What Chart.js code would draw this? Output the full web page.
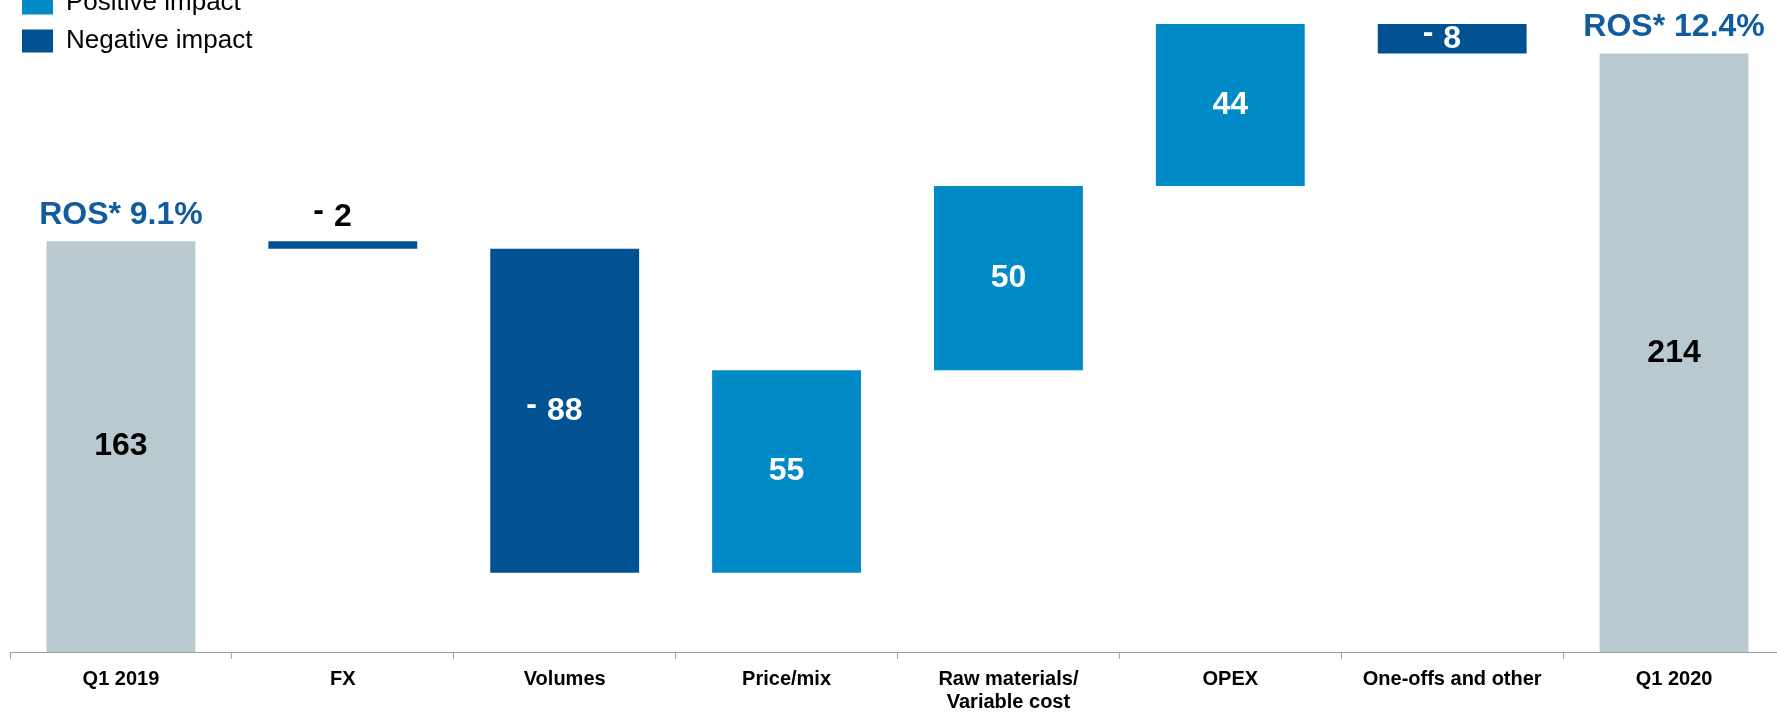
<!DOCTYPE html>
<html>
<head>
<meta charset="utf-8">
<script src="https://cdn.jsdelivr.net/npm/chart.js@4.4.1/dist/chart.umd.min.js"></script>
<style>
  html, body { margin: 0; padding: 0; background: #fff; overflow: hidden; width: 1777px; height: 712px; }
  #wrap { position: absolute; left: 0; top: -22px; width: 1785px; height: 734px; }
</style>
</head>
<body>
<div id="wrap"><canvas id="chartBridge"></canvas></div>
<script>
// EBIT-мост Q1 2019 -> Q1 2020

var categories = ['Q1 2019', 'FX', 'Volumes', 'Price/mix', ['Raw materials/', 'Variable cost'], 'OPEX', 'One-offs and other', 'Q1 2020'];
var values = [163, -2, -88, 55, 50, 44, -8, 214];
var kinds = ['total', 'delta', 'delta', 'delta', 'delta', 'delta', 'delta', 'total'];
var rosLabels = ['ROS* 9.1%', '', '', '', '', '', '', 'ROS* 12.4%'];
var legendNames = ['Positive impact', 'Negative impact'];

var COL_TOTAL = '#B8C9D0';
var COL_POS = '#008BC6';
var COL_NEG = '#005293';
var COL_ROS = '#115C9E';
var FONT = "'Liberation Sans', Arial, sans-serif";

// плавающие бары: [начало, конец]
var ranges = [];
var colors = [];
var running = 0;
values.forEach(function(v, i) {
    if (kinds[i] === 'total') {
        ranges.push([51.5, v]);
        running = v;
        colors.push(COL_TOTAL);
    } else {
        ranges.push([running, running + v]);
        running += v;
        colors.push(v >= 0 ? COL_POS : COL_NEG);
    }
});

var barLabels = {
    id: 'barLabels',
    afterDatasetsDraw: function(chart) {
        var ctx = chart.ctx;
        var meta = chart.getDatasetMeta(0);
        ctx.save();
        meta.data.forEach(function(bar, i) {
            var p = bar.getProps(['x', 'y', 'base'], true);
            var top = Math.min(p.y, p.base);
            var bottom = Math.max(p.y, p.base);
            var cy = (top + bottom) / 2;
            var v = values[i];
            var num = String(Math.abs(v));
            var color = kinds[i] === 'total' ? '#000' : '#fff';
            if (bottom - top < 20) {
                cy = top - 24;
                color = '#000';
            }
            ctx.font = 'bold 32px ' + FONT;
            ctx.fillStyle = color;
            ctx.textBaseline = 'middle';
            ctx.textAlign = 'center';
            ctx.fillText(num, p.x, cy);
            if (v < 0) {
                var w = ctx.measureText(num).width;
                ctx.textAlign = 'right';
                ctx.fillText('-', p.x - w / 2 - 10, cy - 6);
            }
            if (rosLabels[i]) {
                ctx.fillStyle = COL_ROS;
                ctx.textAlign = 'center';
                ctx.textBaseline = 'alphabetic';
                ctx.fillText(rosLabels[i], p.x, top - 17.5);
            }
        });
        ctx.restore();
    }
};

new Chart(document.getElementById('chartBridge'), {
    type: 'bar',
    data: {
        labels: categories,
        datasets: [{
            data: ranges,
            backgroundColor: colors,
            borderWidth: 0,
            barPercentage: 0.671,
            categoryPercentage: 1.0,
        }],
    },
    options: {
        responsive: true,
        maintainAspectRatio: false,
        animation: false,
        layout: { padding: { left: 10, right: 0, top: 0, bottom: 0 } },
        plugins: {
            tooltip: { enabled: false },
            legend: {
                position: 'chartArea',
                align: 'start',
                labels: {
                    boxWidth: 31,
                    boxHeight: 23,
                    padding: 12,
                    color: '#000',
                    font: { family: FONT, size: 26 },
                    generateLabels: function() {
                        return [
                            { text: legendNames[0], fillStyle: COL_POS, strokeStyle: COL_POS, lineWidth: 0 },
                            { text: legendNames[1], fillStyle: COL_NEG, strokeStyle: COL_NEG, lineWidth: 0 },
                        ];
                    },
                },
            },
        },
        scales: {
            x: {
                grid: {
                    offset: true,
                    drawOnChartArea: false,
                    drawTicks: true,
                    tickLength: 7,
                    color: '#A0A0A0',
                },
                border: { display: true, color: '#A0A0A0', width: 1 },
                ticks: {
                    padding: 9,
                    color: '#000',
                    maxRotation: 0,
                    autoSkip: false,
                    font: { family: FONT, size: 20, weight: 'bold', lineHeight: 1.15 },
                },
                afterFit: function(scale) { scale.height = 60; },
            },
            y: {
                display: false,
                min: 51.5,
                max: 234.5,
            },
        },
    },
    plugins: [barLabels],
});
</script>
</body>
</html>
